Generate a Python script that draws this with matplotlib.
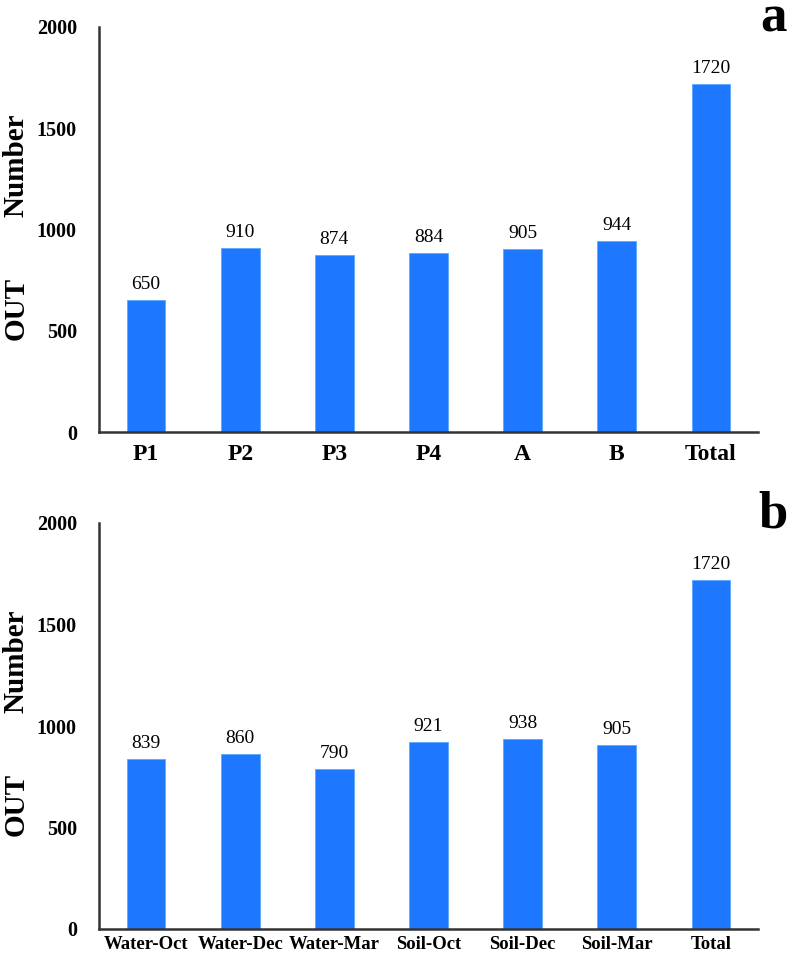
import matplotlib
matplotlib.use("Agg")
import matplotlib.pyplot as plt

plt.rcParams['font.family'] = ['Liberation Serif', 'DejaVu Serif']

cats_a = ["P1", "P2", "P3", "P4", "A", "B", "Total"]
vals_a = [650, 910, 874, 884, 905, 944, 1720]
cats_b = ["Water-Oct", "Water-Dec", "Water-Mar", "Soil-Oct", "Soil-Dec", "Soil-Mar", "Total"]
vals_b = [839, 860, 790, 921, 938, 905, 1720]
yticks = [0, 500, 1000, 1500, 2000]

BAR = '#1E78FF'
W, H = 790, 961
fig = plt.figure(figsize=(W / 100, H / 100), dpi=100)

def fx(px):
    return px / W

def fy(py):
    return 1 - py / H

def panel(top, bottom, cats, vals, letter, xfs, xpad):
    ax = fig.add_axes([fx(99), fy(bottom), fx(758 - 99), (bottom - top) / H])
    x = range(len(cats))
    bars = ax.bar(x, vals, width=0.41, color=BAR, edgecolor='#5aa8ff', linewidth=0.6)
    ax.set_xlim(-0.5, len(cats) - 0.5)
    ax.set_ylim(0, 2000)
    ax.set_yticks(yticks)
    ax.set_yticklabels([str(t) for t in yticks], fontsize=14.5, fontweight='bold')
    ax.set_xticks(list(x))
    ax.set_xticklabels(cats, fontsize=xfs, fontweight='bold')
    ax.tick_params(axis='y', length=0, pad=16)
    ax.tick_params(axis='x', length=0, pad=xpad)
    for s in ['top', 'right']:
        ax.spines[s].set_visible(False)
    for s in ['left', 'bottom']:
        ax.spines[s].set_linewidth(1.8)
        ax.spines[s].set_color('#333333')
    for b, v in zip(bars, vals):
        ax.annotate(str(v), (b.get_x() + b.get_width() / 2, v), xytext=(0, 5),
                    textcoords='offset points', ha='center', va='bottom',
                    fontsize=14)
    fig.text(fx(16), fy(top + 138), "Number", rotation=90, ha='center', va='center',
             fontsize=21, fontweight='bold')
    fig.text(fx(16), fy(top + 281), "OUT", rotation=90, ha='center', va='center',
             fontsize=21, fontweight='bold')
    fig.text(fx(773), fy(top + 5), letter, ha='center', va='baseline',
             fontsize=38, fontweight='bold')
    return ax

panel(27, 432, cats_a, vals_a, 'a', 17, 9)
panel(523, 929, cats_b, vals_b, 'b', 13.5, 5)

fig.savefig("out.png", dpi=100)
